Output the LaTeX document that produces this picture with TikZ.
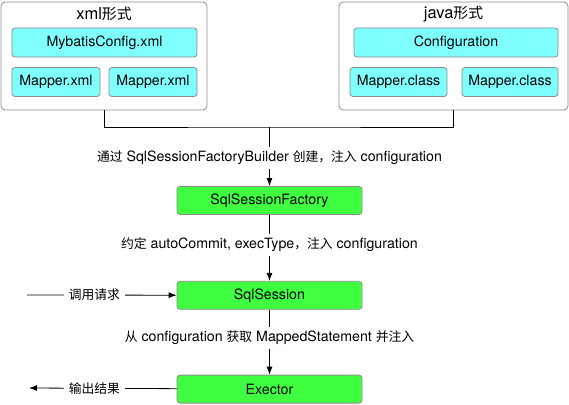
\documentclass[tikz,border=0pt]{standalone}
\usepackage{fontspec}
\setmainfont{TeX Gyre Heros}
\newfontfamily\cjk[Scale=0.9]{Noto Sans CJK SC}
\usepackage{tikz}
\usetikzlibrary{arrows.meta}
\usetikzlibrary{positioning}
\definecolor{mycyan}{RGB}{128,255,255}
\definecolor{mygreen}{RGB}{64,255,64}
\definecolor{myborder}{RGB}{140,140,140}
\newcommand\zh[1]{{\cjk #1}}

\begin{document}
\begin{tikzpicture}[x=1pt, y=-1pt, >={Latex[length=8pt,width=6pt]},
font=\fontsize{14.2}{16}\selectfont,
node distance=65pt,
groupbox/.style={
  draw=myborder,
  line width=0.8pt,
  fill=white,
  rounded corners=4pt,
  minimum width=#1,
  minimum height=108pt,
  inner sep=0pt},
filebox/.style={
  draw=myborder,
  line width=0.8pt,
  fill=mycyan,
  rounded corners=3pt,
  minimum width=#1,
  minimum height=29pt,
  inner sep=0pt},
stepbox/.style={
  draw=myborder,
  line width=0.8pt,
  fill=mygreen,
  rounded corners=3pt,
  minimum width=185pt,
  minimum height=28pt,
  inner sep=0pt},
label/.style={
  fill=white,
  inner xsep=5pt,
  inner ysep=4pt},
title/.style={font=\fontsize{16.5}{18}\selectfont}
]
\useasboundingbox (0,0) rectangle (569,404);

% xml side
\node[groupbox=206pt] (xmlbox) at (104,56) {};
\node[title] (xmltitle) at (104,14) {xml\zh{形式}};
\node[filebox=185pt] (xmlcfg) at (104.5,42.5) {MybatisConfig.xml};
\node[filebox=88pt] (xmlmapa) at (56,82) {Mapper.xml};
\node[filebox=88pt] (xmlmapb) at (153,82) {Mapper.xml};

% java side
\node[groupbox=229pt] (javabox) at (453.5,56) {};
\node[title] (javatitle) at (453.5,14) {java\zh{形式}};
\node[filebox=204pt] (javacfg) at (456,42.5) {Configuration};
\node[filebox=97pt] (javamapa) at (398.5,82) {Mapper.class};
\node[filebox=96pt] (javamapb) at (510,82) {Mapper.class};

% flow
\node[stepbox] (factory) at (269.5,200.5) {SqlSessionFactory};
\node[stepbox, below=66pt of factory] (session) {SqlSession};
\node[stepbox, below=of session] (exector) {Exector};

\coordinate (join) at (269.5,127);
\coordinate (callin) at (27,295);
\coordinate (callout) at (29,388);

\draw[line width=0.8pt] (xmlbox.south) |- (join) -| (javabox.south);
\draw[->, line width=0.8pt] (join) -- node[label, pos=0.52] {\zh{通过} SqlSessionFactoryBuilder \zh{创建，注入} configuration} (factory);
\draw[->, line width=0.8pt] (factory) -- node[label, pos=0.45] {\zh{约定} autoCommit, execType\zh{，注入} configuration} (session);
\draw[->, line width=0.8pt] (session) -- node[label, pos=0.43] {\zh{从} configuration \zh{获取} MappedStatement \zh{并注入}} (exector);
\draw[->, line width=0.8pt] (callin) -- node[label, pos=0.45] {\zh{调用请求}} (session);
\draw[->, line width=0.8pt] (exector) -- node[label, pos=0.557] {\zh{输出结果}} (callout);

\end{tikzpicture}
\end{document}
